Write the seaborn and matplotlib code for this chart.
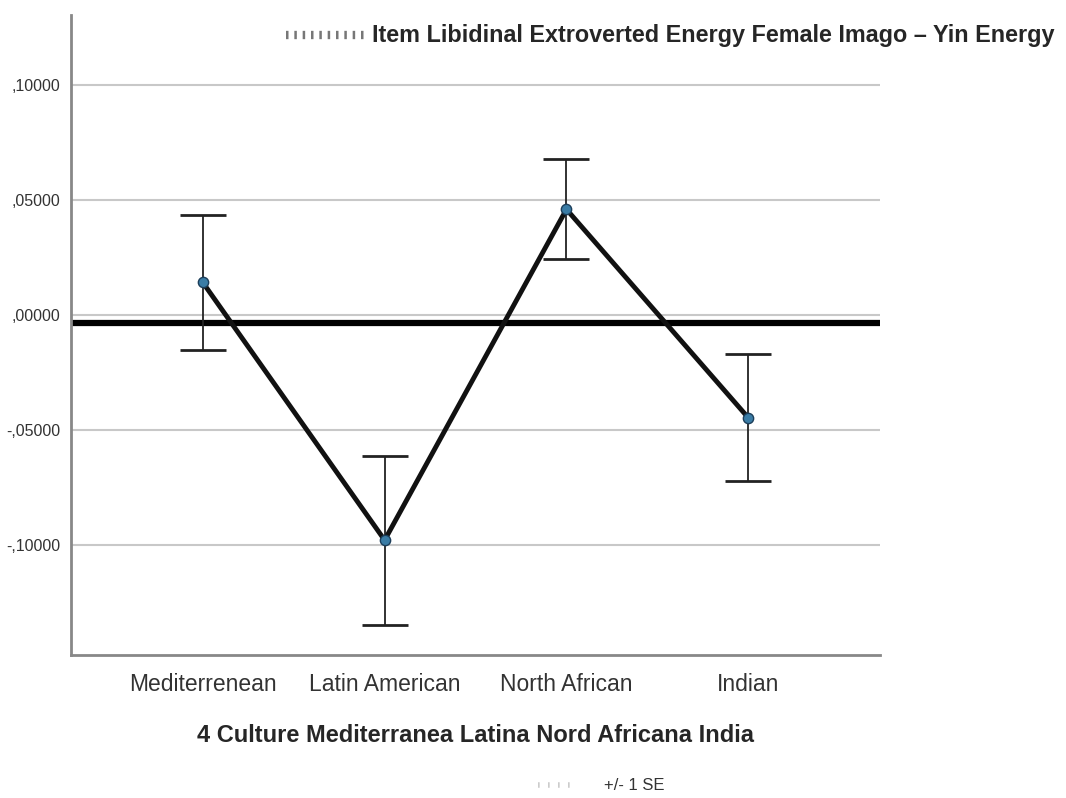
import numpy as np
import pandas as pd
import matplotlib.pyplot as plt
from matplotlib.lines import Line2D
import seaborn as sns

# Values
cultures = ['Mediterrenean', 'Latin American', 'North African', 'Indian']
means = [0.0142, -0.0978, 0.0460, -0.0446]
se = [0.0294, 0.0367, 0.0218, 0.0276]
ref_value = -0.0035
y_ticks = [-0.10, -0.05, 0.00, 0.05, 0.10]
y_labels = ['-,10000', '-,05000', ',00000', ',05000', ',10000']

title = 'Item Libidinal Extroverted Energy Female Imago \u2013 Yin Energy'
xlabel = '4 Culture Mediterranea Latina Nord Africana India'

df = pd.DataFrame({'culture': cultures, 'mean': means, 'se': se})
df['pos'] = np.arange(len(df))

sns.set_style('white')
plt.rcParams['font.family'] = ['Liberation Sans', 'DejaVu Sans']

fig = plt.figure(figsize=(10.66, 7.98), dpi=100)
ax = fig.add_axes([0.0666, 0.179, 0.759, 0.802])

# grid lines
for t in y_ticks:
    ax.axhline(t, color='#c8c8c8', lw=1.5, zorder=0)

# reference line
ax.axhline(ref_value, color='black', lw=4.5, zorder=1)

# error bars (+/- 1 SE)
ax.errorbar(df['pos'], df['mean'], yerr=df['se'], fmt='none', ecolor='#222222',
            elinewidth=1.3, capsize=16.5, capthick=2.0, zorder=2)

# mean line and markers
sns.lineplot(data=df, x='pos', y='mean', color='#111111', lw=3.5, ax=ax,
             zorder=3, legend=False)
sns.scatterplot(data=df, x='pos', y='mean', color='#3a7ca5', edgecolor='#1c3e5a',
                s=55, linewidth=1, ax=ax, zorder=4, legend=False)

ax.set_xlim(-0.725, 3.725)
ax.set_ylim(-0.1478, 0.1304)
ax.set_xticks(df['pos'])
ax.set_xticklabels(cultures, fontsize=16.5, color='#333333')
ax.set_yticks(y_ticks)
ax.set_yticklabels(y_labels, fontsize=11.5, color='#333333')
ax.tick_params(axis='both', length=0, pad=8)
ax.tick_params(axis='x', pad=13)
ax.set_xlabel(xlabel, fontsize=17, fontweight='bold', labelpad=20)
ax.set_ylabel('')

for s in ['top', 'right']:
    ax.spines[s].set_visible(False)
for s in ['left', 'bottom']:
    ax.spines[s].set_color('#888888')
    ax.spines[s].set_linewidth(2)

# legend-like annotations
fig.text(0.349, 0.956, title, fontsize=16.8, fontweight='bold', va='center', ha='left')
fig.add_artist(Line2D([0.268, 0.342], [0.956, 0.956], transform=fig.transFigure,
                      color='#777777', lw=6, ls=(0, (0.3, 0.7))))
fig.text(0.567, 0.016, '+/- 1 SE', fontsize=12, va='center', ha='left', color='#333333')
fig.add_artist(Line2D([0.505, 0.535], [0.016, 0.016], transform=fig.transFigure,
                      color='#cccccc', lw=4, ls=(0, (0.3, 1.5))))

fig.savefig('out.png', dpi=100)
